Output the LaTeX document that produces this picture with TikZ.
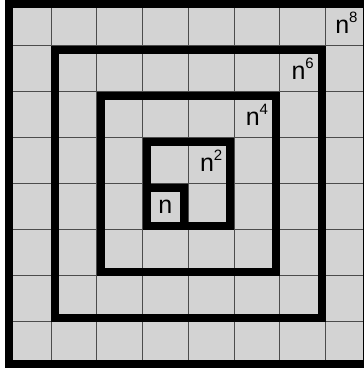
\documentclass[tikz,border=0pt]{standalone}
\usepackage{fontspec}
\setmainfont{Liberation Sans}
\definecolor{cellgray}{RGB}{211,211,211}
\newcommand\myexp[1]{\raisebox{11pt}{\fontsize{15}{15}\selectfont #1}}
\tikzset{
  cellbox/.style={fill=cellgray, draw=black!70, line width=1pt},
  thickbox/.style={draw=black, line width=8pt},
  lbl/.style={inner sep=0pt, font=\fontsize{25}{25}\selectfont}
}
\begin{document}
\begin{tikzpicture}[x=1pt,y=1pt]
\useasboundingbox (0,0) rectangle (364,370);
\clip (0,0) rectangle (364,370);
\fill[white] (0,0) rectangle (364,370);
\begin{scope}[shift={(5.25,370)}, x=45.75pt, y=-46pt]
  \foreach \i in {0,...,7} \foreach \j in {0,...,7}
    \draw[cellbox] (\i,\j) rectangle (\i+1,\j+1);
  \foreach \a/\b in {0/8, 1/7, 2/6, 3/5}
    \draw[thickbox] ([xshift=4pt,yshift=-4pt]\a,\a) rectangle ([xshift=-4pt,yshift=4pt]\b,\b);
  \draw[thickbox] ([xshift=4pt,yshift=-4pt]3,4) rectangle ([xshift=-4pt,yshift=4pt]4,5);
  \node[lbl] (l1) at (3.5,4.5) {n};
  \node[lbl] (l2) at (4.5,3.5) {n\myexp{2}};
  \node[lbl] (l4) at (5.5,2.5) {n\myexp{4}};
  \node[lbl] (l6) at (6.5,1.5) {n\myexp{6}};
  \node[lbl, xshift=-2pt] (l8) at (7.5,0.5) {n\myexp{8}};
\end{scope}
\end{tikzpicture}
\end{document}
